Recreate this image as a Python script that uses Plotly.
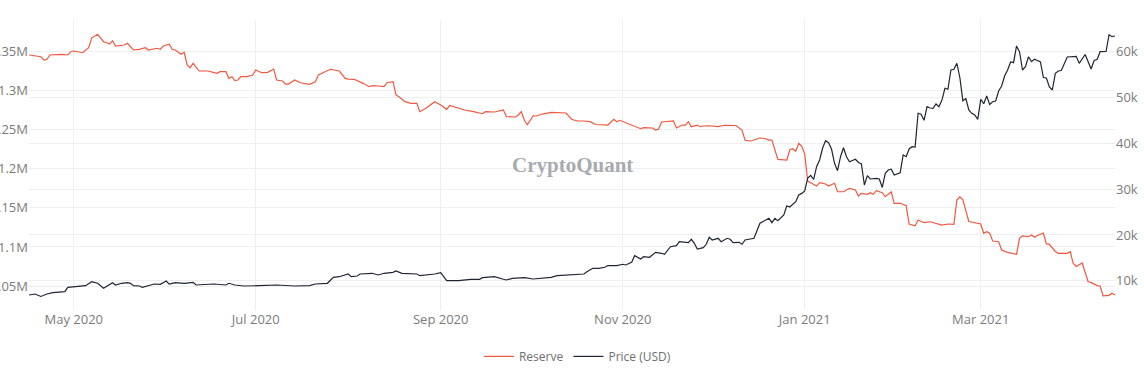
import plotly.graph_objects as go

reserve_dates = [
    "2020-04-16", "2020-04-20", "2020-04-21", "2020-04-22", "2020-04-23", "2020-04-27", "2020-04-29", "2020-04-30",
    "2020-05-01", "2020-05-04", "2020-05-06", "2020-05-07", "2020-05-09", "2020-05-11", "2020-05-12", "2020-05-13",
    "2020-05-14", "2020-05-15", "2020-05-18", "2020-05-19", "2020-05-21", "2020-05-23", "2020-05-25", "2020-05-26",
    "2020-05-29", "2020-05-30", "2020-05-31", "2020-06-02", "2020-06-03", "2020-06-04", "2020-06-06", "2020-06-07",
    "2020-06-08", "2020-06-09", "2020-06-10", "2020-06-12", "2020-06-15", "2020-06-18", "2020-06-19", "2020-06-21",
    "2020-06-22", "2020-06-23", "2020-06-24", "2020-06-25", "2020-06-26", "2020-06-28", "2020-06-30", "2020-07-01",
    "2020-07-03", "2020-07-05", "2020-07-07", "2020-07-08", "2020-07-10", "2020-07-11", "2020-07-12", "2020-07-14",
    "2020-07-16", "2020-07-19", "2020-07-21", "2020-07-22", "2020-07-26", "2020-07-29", "2020-07-31", "2020-08-01",
    "2020-08-03", "2020-08-05", "2020-08-06", "2020-08-08", "2020-08-09", "2020-08-11", "2020-08-13", "2020-08-14",
    "2020-08-16", "2020-08-17", "2020-08-18", "2020-08-20", "2020-08-22", "2020-08-24", "2020-08-25", "2020-08-27",
    "2020-08-28", "2020-08-30", "2020-09-01", "2020-09-03", "2020-09-04", "2020-09-06", "2020-09-07", "2020-09-09",
    "2020-09-12", "2020-09-15", "2020-09-16", "2020-09-19", "2020-09-22", "2020-09-23", "2020-09-26", "2020-09-27",
    "2020-09-28", "2020-09-29", "2020-09-30", "2020-10-02", "2020-10-03", "2020-10-05", "2020-10-08", "2020-10-10",
    "2020-10-13", "2020-10-15", "2020-10-17", "2020-10-19", "2020-10-21", "2020-10-23", "2020-10-27", "2020-10-29",
    "2020-10-30", "2020-10-31", "2020-11-03", "2020-11-05", "2020-11-07", "2020-11-08", "2020-11-11", "2020-11-12",
    "2020-11-13", "2020-11-14", "2020-11-16", "2020-11-18", "2020-11-19", "2020-11-21", "2020-11-22", "2020-11-23",
    "2020-11-24", "2020-11-26", "2020-11-27", "2020-11-28", "2020-11-30", "2020-12-03", "2020-12-05", "2020-12-09",
    "2020-12-11", "2020-12-12", "2020-12-14", "2020-12-15", "2020-12-17", "2020-12-19", "2020-12-20", "2020-12-21",
    "2020-12-23", "2020-12-26", "2020-12-27", "2020-12-28", "2020-12-29", "2020-12-30", "2020-12-31", "2021-01-01",
    "2021-01-02", "2021-01-03", "2021-01-05", "2021-01-06", "2021-01-08", "2021-01-09", "2021-01-11", "2021-01-12",
    "2021-01-14", "2021-01-16", "2021-01-18", "2021-01-19", "2021-01-20", "2021-01-22", "2021-01-23", "2021-01-24",
    "2021-01-25", "2021-01-27", "2021-01-28", "2021-01-30", "2021-01-31", "2021-02-02", "2021-02-04", "2021-02-05",
    "2021-02-07", "2021-02-08", "2021-02-10", "2021-02-12", "2021-02-16", "2021-02-18", "2021-02-20", "2021-02-21",
    "2021-02-22", "2021-02-23", "2021-02-25", "2021-03-01", "2021-03-02", "2021-03-03", "2021-03-04", "2021-03-05",
    "2021-03-07", "2021-03-08", "2021-03-10", "2021-03-13", "2021-03-14", "2021-03-15", "2021-03-17", "2021-03-18",
    "2021-03-19", "2021-03-20", "2021-03-22", "2021-03-23", "2021-03-24", "2021-03-26", "2021-03-27", "2021-03-30",
    "2021-03-31", "2021-04-01", "2021-04-02", "2021-04-04", "2021-04-06", "2021-04-07", "2021-04-09", "2021-04-10",
    "2021-04-11", "2021-04-13", "2021-04-14", "2021-04-15",
]

reserve_values = [
    1345800, 1343600, 1339400, 1340300, 1345800, 1346700, 1345800, 1350000,
    1350900, 1348700, 1355100, 1367500, 1372300, 1362800, 1361500, 1359900,
    1364100, 1357300, 1358600, 1360800, 1352200, 1353100, 1355100, 1352200,
    1354400, 1353100, 1357300, 1359500, 1353100, 1352200, 1346700, 1349200,
    1333000, 1329500, 1335100, 1325300, 1325300, 1322300, 1324400, 1324400,
    1315900, 1318000, 1312900, 1313800, 1318000, 1318000, 1320200, 1326600,
    1323100, 1323600, 1327800, 1313800, 1312500, 1308600, 1308600, 1313800,
    1310300, 1308300, 1311600, 1320200, 1327500, 1325300, 1315900, 1315000,
    1314700, 1311600, 1309500, 1305200, 1306500, 1306100, 1305200, 1310300,
    1311600, 1294600, 1292400, 1286000, 1283900, 1283900, 1273200, 1277500,
    1280500, 1286000, 1281800, 1276200, 1281100, 1278800, 1277500, 1275400,
    1273200, 1270600, 1273200, 1272800, 1275400, 1267000, 1266400, 1269000,
    1273200, 1262600, 1256500, 1267900, 1267700, 1270200, 1272400, 1271900,
    1271500, 1263200, 1261300, 1261300, 1260400, 1256800, 1256100, 1263400,
    1260400, 1262200, 1257400, 1253600, 1251400, 1252700, 1252300, 1249700,
    1250600, 1260000, 1260600, 1261300, 1252300, 1256100, 1256100, 1260400,
    1254000, 1256100, 1254000, 1254900, 1255200, 1254000, 1255800, 1255500,
    1249400, 1236600, 1235700, 1236900, 1239500, 1238600, 1236900, 1236900,
    1212200, 1211300, 1224500, 1225700, 1222500, 1232700, 1228900, 1219000,
    1184400, 1182300, 1178000, 1182300, 1180600, 1178000, 1181500, 1170700,
    1170700, 1175100, 1172900, 1165200, 1168700, 1167400, 1169500, 1167400,
    1172000, 1169500, 1164300, 1170700, 1155900, 1155900, 1152800, 1129400,
    1127200, 1134500, 1131100, 1132300, 1128100, 1129400, 1129000, 1160100,
    1164300, 1160800, 1132600, 1129400, 1117500, 1119500, 1117500, 1107600,
    1106700, 1096100, 1093100, 1090700, 1111100, 1114300, 1113100, 1115300,
    1112400, 1114700, 1117900, 1104000, 1103400, 1094200, 1091900, 1091900,
    1093900, 1078800, 1075000, 1079500, 1055500, 1054700, 1050600, 1050000,
    1037500, 1038100, 1040700, 1038500,
]

price_dates = [
    "2020-04-16", "2020-04-18", "2020-04-20", "2020-04-22", "2020-04-24", "2020-04-28", "2020-04-29", "2020-05-01",
    "2020-05-03", "2020-05-05", "2020-05-07", "2020-05-09", "2020-05-11", "2020-05-12", "2020-05-14", "2020-05-15",
    "2020-05-17", "2020-05-19", "2020-05-20", "2020-05-21", "2020-05-23", "2020-05-24", "2020-05-26", "2020-05-28",
    "2020-05-30", "2020-06-01", "2020-06-02", "2020-06-04", "2020-06-07", "2020-06-10", "2020-06-11", "2020-06-17",
    "2020-06-21", "2020-06-22", "2020-06-24", "2020-06-27", "2020-07-02", "2020-07-08", "2020-07-14", "2020-07-19",
    "2020-07-21", "2020-07-25", "2020-07-27", "2020-07-29", "2020-08-01", "2020-08-02", "2020-08-04", "2020-08-05",
    "2020-08-09", "2020-08-11", "2020-08-13", "2020-08-16", "2020-08-17", "2020-08-19", "2020-08-24", "2020-08-25",
    "2020-08-30", "2020-09-01", "2020-09-03", "2020-09-07", "2020-09-11", "2020-09-14", "2020-09-15", "2020-09-19",
    "2020-09-22", "2020-09-23", "2020-09-25", "2020-09-29", "2020-10-02", "2020-10-08", "2020-10-10", "2020-10-16",
    "2020-10-19", "2020-10-20", "2020-10-22", "2020-10-24", "2020-10-26", "2020-10-27", "2020-10-30", "2020-11-01",
    "2020-11-02", "2020-11-04", "2020-11-05", "2020-11-07", "2020-11-08", "2020-11-10", "2020-11-12", "2020-11-14",
    "2020-11-15", "2020-11-17", "2020-11-19", "2020-11-20", "2020-11-23", "2020-11-24", "2020-11-25", "2020-11-26",
    "2020-11-28", "2020-11-29", "2020-11-30", "2020-12-01", "2020-12-03", "2020-12-04", "2020-12-06", "2020-12-07",
    "2020-12-08", "2020-12-10", "2020-12-11", "2020-12-12", "2020-12-14", "2020-12-15", "2020-12-17", "2020-12-19",
    "2020-12-20", "2020-12-21", "2020-12-22", "2020-12-23", "2020-12-25", "2020-12-26", "2020-12-27", "2020-12-29",
    "2020-12-30", "2020-12-31", "2021-01-01", "2021-01-02", "2021-01-03", "2021-01-04", "2021-01-05", "2021-01-06",
    "2021-01-07", "2021-01-08", "2021-01-09", "2021-01-10", "2021-01-11", "2021-01-12", "2021-01-13", "2021-01-14",
    "2021-01-15", "2021-01-16", "2021-01-18", "2021-01-19", "2021-01-20", "2021-01-21", "2021-01-22", "2021-01-23",
    "2021-01-24", "2021-01-25", "2021-01-26", "2021-01-27", "2021-01-28", "2021-01-29", "2021-01-30", "2021-01-31",
    "2021-02-02", "2021-02-03", "2021-02-04", "2021-02-05", "2021-02-06", "2021-02-07", "2021-02-08", "2021-02-09",
    "2021-02-10", "2021-02-11", "2021-02-12", "2021-02-13", "2021-02-14", "2021-02-15", "2021-02-16", "2021-02-17",
    "2021-02-18", "2021-02-19", "2021-02-20", "2021-02-21", "2021-02-22", "2021-02-23", "2021-02-24", "2021-02-25",
    "2021-02-26", "2021-02-27", "2021-02-28", "2021-03-01", "2021-03-02", "2021-03-03", "2021-03-04", "2021-03-05",
    "2021-03-06", "2021-03-07", "2021-03-08", "2021-03-09", "2021-03-10", "2021-03-11", "2021-03-12", "2021-03-13",
    "2021-03-14", "2021-03-15", "2021-03-16", "2021-03-17", "2021-03-18", "2021-03-19", "2021-03-20", "2021-03-21",
    "2021-03-22", "2021-03-23", "2021-03-24", "2021-03-25", "2021-03-26", "2021-03-27", "2021-03-28", "2021-03-30",
    "2021-04-02", "2021-04-03", "2021-04-05", "2021-04-07", "2021-04-08", "2021-04-09", "2021-04-10", "2021-04-12",
    "2021-04-13", "2021-04-14", "2021-04-15",
]

price_values = [
    6920, 7137, 6600, 7137, 7421, 7639, 8597, 8728,
    8728, 8946, 9818, 9469, 8379, 8728, 9600, 9099,
    9469, 9600, 9469, 8946, 8881, 8597, 8881, 9316,
    9251, 9970, 9273, 9600, 9469, 9687, 9099, 9316,
    9099, 9469, 9099, 8881, 8946, 9099, 8881, 8946,
    9316, 9469, 10776, 10907, 11495, 10907, 11060, 11495,
    11648, 11278, 11648, 11866, 12149, 11648, 11495, 11125,
    11495, 11779, 10036, 10036, 10341, 10341, 10689, 10907,
    10341, 10188, 10558, 10689, 10406, 10776, 11125, 11278,
    11495, 11997, 12737, 12737, 12955, 13348, 13304, 13609,
    13457, 14045, 15483, 14764, 15265, 15134, 16224, 16006,
    15788, 17444, 17662, 18534, 18316, 19057, 18185, 16943,
    17226, 17967, 19492, 18904, 19274, 18534, 19274, 19057,
    18316, 18403, 17967, 18904, 19122, 19274, 22543, 23262,
    23632, 22674, 23632, 23110, 24352, 26356, 26095, 27250,
    28710, 29058, 29581, 32414, 32959, 32087, 34920, 36336,
    38951, 40542, 40106, 38668, 35617, 34005, 37055, 39016,
    37055, 35966, 36489, 35791, 35464, 30889, 32915, 32196,
    32305, 32348, 32196, 30344, 33437, 34157, 34310, 33068,
    33569, 37426, 37055, 38733, 39234, 39168, 46512, 46294,
    44987, 47950, 47667, 47602, 48538, 47950, 49410, 51959,
    51742, 55947, 56100, 57407, 54313, 49236, 49715, 47231,
    46512, 46142, 45205, 49563, 48582, 50282, 48430, 49040,
    49192, 51371, 52461, 54640, 55947, 57690, 57538, 61198,
    59869, 55947, 56666, 58845, 57756, 58279, 58017, 57690,
    54313, 54204, 52243, 51589, 55228, 55729, 55838, 58780,
    58932, 57407, 59325, 56165, 58017, 58235, 59935, 59978,
    63639, 63203, 63356,
]

series_names = ["Reserve", "Price (USD)"]
series_colors = ["#f2573f", "#1f2633"]

x_range = ["2020-04-16", "2021-04-15"]
reserve_range = [1019300, 1390600]
price_range = [3650, 66840]

TICK_COLOR = "#7b7b7b"
GRID_COLOR = "#efefef"

fig = go.Figure()
fig.add_trace(go.Scatter(
    x=reserve_dates, y=reserve_values, name=series_names[0], mode="lines",
    line=dict(color=series_colors[0], width=1.2), yaxis="y",
))
fig.add_trace(go.Scatter(
    x=price_dates, y=price_values, name=series_names[1], mode="lines",
    line=dict(color=series_colors[1], width=1.2), yaxis="y2",
))

fig.update_layout(
    width=1144, height=369,
    margin=dict(l=29, r=29, t=20, b=59, autoexpand=False),
    paper_bgcolor="white", plot_bgcolor="white",
    font=dict(family="Open Sans, sans-serif", size=13, color=TICK_COLOR),
    showlegend=True,
    legend=dict(orientation="h", x=0.505, xanchor="center", y=-0.11, yanchor="top",
                font=dict(size=12, color="#6f6f6f"), bgcolor="rgba(0,0,0,0)"),
    xaxis=dict(
        type="date", range=x_range, dtick="M2", tick0="2020-05-01", tickformat="%b %Y",
        showgrid=True, gridcolor=GRID_COLOR, gridwidth=1, zeroline=False, showline=False,
        ticks="", automargin=False, tickfont=dict(size=13, color=TICK_COLOR),
    ),
    yaxis=dict(
        range=reserve_range, tick0=0, dtick=50000, showgrid=True, gridcolor=GRID_COLOR,
        zeroline=False, showline=False, ticks="", automargin=False,
        tickfont=dict(size=13, color=TICK_COLOR),
    ),
    yaxis2=dict(
        range=price_range, tick0=0, dtick=10000, overlaying="y", side="right",
        showgrid=True, gridcolor=GRID_COLOR, zeroline=False, showline=False, ticks="",
        automargin=False, tickfont=dict(size=13, color=TICK_COLOR),
    ),
    annotations=[dict(
        text="<b>CryptoQuant</b>", xref="paper", yref="paper", x=0.5, y=0.5,
        xanchor="center", yanchor="middle", showarrow=False,
        font=dict(family="Liberation Serif, serif", size=21, color="#a7abaf"),
    )],
)

fig.write_html(
    "out.html",
    config={"displayModeBar": False},
    post_script="document.body.style.margin='0';document.body.style.overflow='hidden';",
)
